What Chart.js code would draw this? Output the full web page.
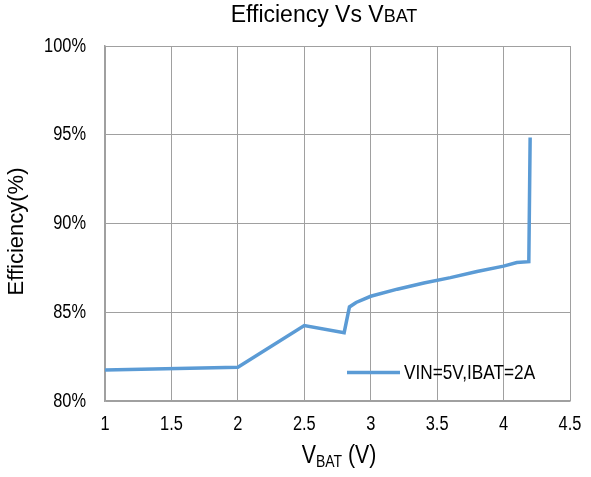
<!DOCTYPE html>
<html><head><meta charset="utf-8">
<script src="https://cdn.jsdelivr.net/npm/chart.js@4"></script>
<style>html,body{margin:0;padding:0;background:#fff}#wrap{width:591px;height:477px;position:relative}</style>
</head><body><div id="wrap"><canvas id="c"></canvas></div>
<script>
const vbat = [1, 2, 2.5, 2.8, 2.84, 2.89, 3.0, 3.2, 3.4, 3.6, 3.8, 4.0, 4.1, 4.19, 4.2];
const efficiency = [81.75, 81.9, 84.25, 83.85, 85.3, 85.55, 85.9, 86.3, 86.65, 86.95, 87.3, 87.6, 87.8, 87.85, 94.85];
const seriesLabel = 'VIN=5V,IBAT=2A';
const xTicks = [1, 1.5, 2, 2.5, 3, 3.5, 4, 4.5];
const yTicks = [80, 85, 90, 95, 100];

const FONT = '"Liberation Sans", Arial, sans-serif';
const LINE = '#5B9BD5';
const GRID = '#a0a0a0';
const SX = 0.82; // condensed text look

function narrowText(ctx, text, x, y, size, align, baseline) {
  ctx.font = size + 'px ' + FONT;
  const w = ctx.measureText(text).width * SX;
  let left = x;
  if (align === 'center') left = x - w / 2;
  else if (align === 'right') left = x - w;
  ctx.save();
  ctx.textAlign = 'left';
  ctx.textBaseline = baseline || 'alphabetic';
  ctx.translate(left, y);
  ctx.scale(SX, 1);
  ctx.fillText(text, 0, 0);
  ctx.restore();
  return w;
}
function narrowWidth(ctx, text, size) {
  ctx.font = size + 'px ' + FONT;
  return ctx.measureText(text).width * SX;
}

const textPlugin = {
  id: 'texts',
  afterDraw(chart) {
    const ctx = chart.ctx;
    ctx.save();
    ctx.fillStyle = '#000';
    ctx.textBaseline = 'alphabetic';
    ctx.textAlign = 'left';
    // tick labels
    const xs = chart.scales.x, ys = chart.scales.y;
    xs.ticks.forEach(t => {
      narrowText(ctx, String(t.value), xs.getPixelForValue(t.value), 424.5, 20, 'center', 'middle');
    });
    ys.ticks.forEach(t => {
      narrowText(ctx, t.value + '%', 86, ys.getPixelForValue(t.value), 20, 'right', 'middle');
    });
    // title
    const t1 = 'Efficiency Vs V', t2 = 'BAT';
    ctx.font = '23px ' + FONT;
    const w1 = ctx.measureText(t1).width;
    ctx.font = '18px ' + FONT;
    const w2 = ctx.measureText(t2).width;
    let x = 324 - (w1 + w2) / 2;
    ctx.font = '23px ' + FONT;
    ctx.fillText(t1, x, 22);
    ctx.font = '18px ' + FONT;
    ctx.fillText(t2, x + w1, 22);
    // x axis title
    const b1 = narrowWidth(ctx, 'V', 26), b2 = narrowWidth(ctx, 'BAT', 17), b3 = narrowWidth(ctx, ' (V)', 26);
    x = 339 - (b1 + b2 + b3) / 2;
    narrowText(ctx, 'V', x, 463, 26, 'left');
    narrowText(ctx, 'BAT', x + b1, 467, 17, 'left');
    narrowText(ctx, ' (V)', x + b1 + b2, 463, 26, 'left');
    // y axis title
    ctx.save();
    ctx.translate(23, 231.5);
    ctx.rotate(-Math.PI / 2);
    ctx.textAlign = 'center';
    ctx.font = '22px ' + FONT;
    ctx.fillText('Efficiency(%)', 0, 0);
    ctx.restore();
    // legend
    const ds = chart.data.datasets[0];
    ctx.strokeStyle = ds.borderColor;
    ctx.lineWidth = ds.borderWidth;
    ctx.beginPath(); ctx.moveTo(347, 372.5); ctx.lineTo(400, 372.5); ctx.stroke();
    narrowText(ctx, ds.label, 404, 373, 21, 'left', 'middle');
    ctx.restore();
  }
};

new Chart(document.getElementById('c'), {
  type: 'scatter',
  data: {
    datasets: [{
      label: seriesLabel,
      data: vbat.map((v, i) => ({ x: v, y: efficiency[i] })),
      showLine: true,
      borderColor: LINE,
      backgroundColor: LINE,
      borderWidth: 3.5,
      pointRadius: 0,
      tension: 0
    }]
  },
  options: {
    responsive: true,
    maintainAspectRatio: false,
    animation: false,
    layout: { padding: { left: 0, top: 46, right: 21, bottom: 0 } },
    plugins: { legend: { display: false }, title: { display: false }, tooltip: { enabled: false } },
    scales: {
      x: {
        type: 'linear', min: 1, max: 4.5,
        afterBuildTicks: s => { s.ticks = xTicks.map(v => ({ value: v })); },
        afterFit: s => { s.height = 76; },
        grid: { color: GRID, drawTicks: false, lineWidth: 1 },
        border: { color: GRID, width: 1.5 },
        ticks: { display: false }
      },
      y: {
        min: 80, max: 100,
        afterBuildTicks: s => { s.ticks = yTicks.map(v => ({ value: v })); },
        afterFit: s => { s.width = 105; },
        grid: { color: GRID, drawTicks: false, lineWidth: 1 },
        border: { color: GRID, width: 1.5 },
        ticks: { display: false }
      }
    }
  },
  plugins: [textPlugin]
});
</script></body></html>
